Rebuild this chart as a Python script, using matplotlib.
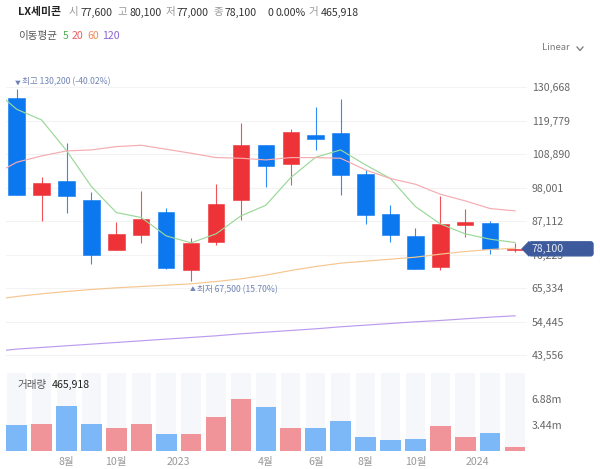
import matplotlib
matplotlib.use('Agg')
import matplotlib.pyplot as plt
from matplotlib.lines import Line2D
from matplotlib.patches import FancyBboxPatch, Polygon

plt.rcParams['font.family'] = ['Noto Sans CJK KR', 'DejaVu Sans']

W, H = 600, 469

# monthly candles
opens = [127200, 95763, 100208, 94029, 77769, 82755, 90018, 71265, 80479, 94137, 112023,
         105628, 115167, 115709, 102484, 89476, 82213, 72132, 85899, 86658, 77600]
closes = [95763, 99666, 95221, 76143, 83080, 87742, 71807, 80154, 92620, 112023, 105086,
          116251, 113758, 102267, 89042, 82755, 71590, 86116, 86983, 78094, 78100]
highs = [130200, 101617, 112674, 96630, 86766, 96956, 91319, 81780, 99124, 118961, 112023,
         117010, 124164, 126874, 103785, 92511, 84815, 95330, 91210, 87308, 80100]
lows = [95763, 87308, 89693, 73216, 77769, 79937, 71482, 67500, 79395, 87525, 98365,
        98907, 110289, 95763, 86224, 80262, 71590, 71373, 82105, 76576, 77000]
volumes = [3.44, 3.57, 5.95, 3.57, 2.96, 3.57, 2.16, 2.16, 4.50, 6.88, 5.82,
           2.96, 2.96, 3.97, 1.85, 1.46, 1.59, 3.31, 1.85, 2.29, 0.466]

# moving averages, the first value belongs to the candle just off the left edge
ma5 = [130451, 123514, 120045, 110072, 98365, 89910, 88284, 82322, 80045, 82972, 88826, 92294,
       101292, 107904, 110289, 105411, 100966, 91861, 86224, 82972, 81238, 80154]
ma20 = [101834, 106278, 108338, 109964, 110289, 111373, 111806, 110506, 109205, 107796, 107579,
        107037, 107796, 107796, 107579, 103785, 100966, 99124, 95872, 93704, 91210, 90452]
ma60 = [61509, 62593, 63460, 64219, 64869, 65411, 65845, 66278, 66712, 67471, 68338,
        69530, 71048, 72349, 73433, 74083, 74734, 75384, 76360, 77227, 77877, 78311]
ma120 = [44598, 45466, 46008, 46550, 47092, 47634, 48176, 48718, 49260, 49802, 50452,
         50994, 51536, 52078, 52728, 53270, 53812, 54354, 54788, 55330, 55872, 56306]

price_ticks = [130668, 119779, 108890, 98001, 87112, 76223, 65334, 54445, 43556]
price_labels = ['130,668', '119,779', '108,890', '98,001', '87,112', '76,223', '65,334', '54,445', '43,556']
vol_ticks = [3.44, 6.88]
vol_labels = ['3.44m', '6.88m']
month_pos = [2, 4, 6.5, 10, 12, 14, 16, 18.5]
month_labels = ['8월', '10월', '2023', '4월', '6월', '8월', '10월', '2024']

UP = '#ee3338'
DOWN = '#0b78f0'
UP_VOL = '#f09499'
DOWN_VOL = '#7cb7f7'
TICK = '#666666'
MARK = '#7083b5'


def px_box(left, top, right, bottom):
    return [left / W, 1 - bottom / H, (right - left) / W, (bottom - top) / H]


def px_text(x, y, s, **kw):
    kw.setdefault('fontsize', 7.6)
    kw.setdefault('va', 'center')
    return fig.text(x / W, 1 - y / H, s, **kw)


fig = plt.figure(figsize=(6, 4.69), dpi=100)
ax = fig.add_axes(px_box(5.7, 80, 527, 365))
vol = fig.add_axes(px_box(5.7, 373.3, 527, 450.7))

idx = list(range(len(opens)))
colors = [UP if c >= o else DOWN for o, c in zip(opens, closes)]

ax.vlines(idx, lows, highs, colors=colors, linewidth=0.8, alpha=0.85, zorder=3)
ax.bar(idx, [abs(c - o) for o, c in zip(opens, closes)], bottom=[min(o, c) for o, c in zip(opens, closes)],
       width=0.66, color=colors, edgecolor=colors, linewidth=0.4, zorder=4)

ma_x = list(range(-1, len(opens)))
ax.plot(ma_x, ma5, color='#9ad89a', lw=0.85, zorder=5)
ax.plot(ma_x, ma20, color='#f6abb0', lw=0.85, zorder=5)
ax.plot(ma_x, ma60, color='#f5c690', lw=0.85, zorder=5)
ax.plot(ma_x, ma120, color='#bb9bee', lw=0.85, zorder=5)

ax.set_xlim(-0.44, 20.48)
ax.set_ylim(40300, 133040)
ax.set_xticks([])
ax.set_yticks(price_ticks)
ax.set_yticklabels(price_labels, color=TICK, fontsize=7.6)
ax.yaxis.tick_right()
ax.tick_params(axis='y', length=0, pad=3.5)
ax.grid(axis='y', color='#f3f3f3', lw=0.8)
ax.set_axisbelow(True)
for s in ax.spines.values():
    s.set_visible(False)

# high and low marks, small triangle drawn apart from the text
ax.annotate('▼', xy=(0, 130200), xytext=(-1.2, 2.6), textcoords='offset points',
            color=MARK, fontsize=4.2, va='bottom', ha='left', annotation_clip=False)
ax.annotate('최고 130,200 (-40.02%)', xy=(0, 130200), xytext=(4, 2), textcoords='offset points',
            color=MARK, fontsize=6.2, fontweight='medium', va='bottom', ha='left', annotation_clip=False)
ax.annotate('▲', xy=(7, 67500), xytext=(-0.8, -4), textcoords='offset points',
            color=MARK, fontsize=4.2, va='top', ha='left', annotation_clip=False)
ax.annotate('최저 67,500 (15.70%)', xy=(7, 67500), xytext=(4, -3), textcoords='offset points',
            color=MARK, fontsize=6.2, fontweight='medium', va='top', ha='left', annotation_clip=False)

# volume panel
vol_top = 10.24
vol.bar(idx, [vol_top] * len(idx), width=0.78, color='#f5f7fa', zorder=1)
vol.bar(idx, volumes, width=0.83, color=[UP_VOL if c == UP else DOWN_VOL for c in colors], zorder=2)
vol.set_xlim(-0.44, 20.48)
vol.set_ylim(0, vol_top)
vol.set_yticks(vol_ticks)
vol.set_yticklabels(vol_labels, color=TICK, fontsize=7.6)
vol.yaxis.tick_right()
vol.set_xticks(month_pos)
vol.set_xticklabels(month_labels, color='#999999', fontsize=7.6)
vol.tick_params(axis='both', length=0)
vol.tick_params(axis='y', pad=3.5)
vol.tick_params(axis='x', pad=4.5)
for s in vol.spines.values():
    s.set_visible(False)

# header
DARK = '#333333'
GREY = '#999999'
px_text(18, 12.5, 'LX세미콘', color='#222222', fontweight='bold', fontsize=7.8)
for x, s, c, w in [(69, '시', GREY, 'normal'), (81, '77,600', DARK, 'medium'),
                   (117, '고', GREY, 'normal'), (129, '80,100', DARK, 'medium'),
                   (166, '저', GREY, 'normal'), (177, '77,000', DARK, 'medium'),
                   (213, '종', GREY, 'normal'), (225, '78,100', DARK, 'medium'),
                   (268, '0', DARK, 'medium'), (275, '0.00%', DARK, 'medium'),
                   (309, '거', GREY, 'normal'), (321, '465,918', DARK, 'medium')]:
    px_text(x, 12.5, s, color=c, fontweight=w)

px_text(18, 36, '이동평균', color='#555555')
px_text(63, 36, '5', color='#4caf50')
px_text(72, 36, '20', color='#ef5a62')
px_text(87, 36, '60', color='#f08a5d')
px_text(102, 36, '120', color='#8a63d2')

px_text(542, 48, 'Linear', color='#777777', fontsize=6.8)
fig.add_artist(Line2D([577 / W, 580 / W, 583 / W], [1 - 47 / H, 1 - 50.5 / H, 1 - 47 / H], color='#777777', lw=0.9))

px_text(18, 385, '거래량', color='#555555')
px_text(52, 385, '465,918', color='#222222', fontweight='medium')

# last price badge follows the close
badge_y = H - ax.transData.transform((0, closes[-1]))[1]
BADGE = '#3d5a9c'
fig.add_artist(FancyBboxPatch((529 / W, 1 - (badge_y + 7) / H), 64 / W, 14 / H,
                              boxstyle='round,pad=0,rounding_size=0.004', mutation_aspect=W / H,
                              transform=fig.transFigure, fc=BADGE, ec=BADGE, lw=1, zorder=6))
fig.add_artist(Polygon([(521.7 / W, 1 - badge_y / H), (529 / W, 1 - (badge_y - 7.5) / H), (529 / W, 1 - (badge_y + 7.5) / H)],
                       transform=fig.transFigure, fc=BADGE, ec=BADGE, lw=0.5, zorder=6))
px_text(531.7, badge_y, '78,100', color='#e8ecf6', zorder=7)

fig.savefig('out.png', dpi=100)
